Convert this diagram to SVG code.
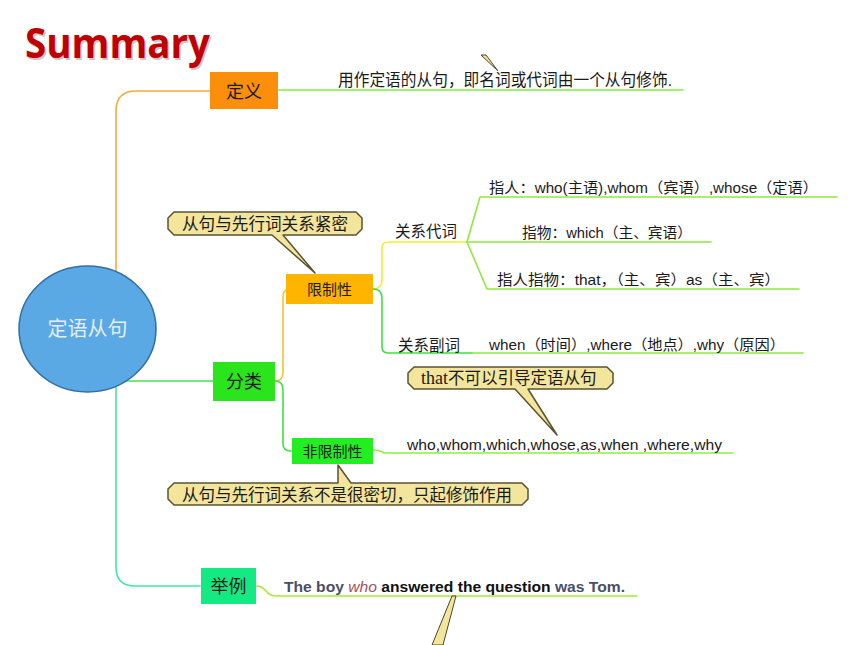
<svg xmlns="http://www.w3.org/2000/svg" width="860" height="645" viewBox="0 0 860 645">
<style>
.cjk{font-family:"Liberation Sans","Noto Sans CJK SC",sans-serif;fill:#1a1a1a}
.node{stroke:none}
.conn{fill:none;stroke-width:1.6;stroke-linecap:round;stroke-linejoin:round}
.call{fill:#f3e59c;stroke:#5a5232;stroke-width:1.5;stroke-linejoin:round}
.wedge{fill:#f3e59c;stroke:#4a4530;stroke-width:1}
</style>
<rect width="860" height="645" fill="#ffffff"/>
<text x="26.5" y="59.5" font-family="Open Sans" font-weight="bold" font-size="41" fill="#888" opacity="0.45" textLength="185" lengthAdjust="spacingAndGlyphs">Summary</text>
<text x="25" y="58" font-family="Open Sans" font-weight="bold" font-size="41" fill="#c00000" textLength="185" lengthAdjust="spacingAndGlyphs">Summary</text>

<g id="connectors">
<path class="conn" stroke="#f7a93a" d="M116,285 V111 Q116,91 136,91 H210"/>
<path class="conn" stroke="#44e64a" d="M120,381 H213"/>
<path class="conn" stroke="#40eaa0" d="M116,380 V567 Q116,586 135,586 H200"/>
<path class="conn" stroke="#80f040" d="M278,90 H683"/>
<path class="conn" stroke="#f2c230" d="M275,381 Q283,381 283,372 V298 Q283,290 287,290"/>
<path class="conn" stroke="#40e040" d="M275,381 Q283,381 283,390 V444 Q283,451 291,451"/>
<path class="conn" stroke="#f0f030" d="M373,289 Q382,289 382,280 V248 Q382,242 388,242 H467"/>
<path class="conn" stroke="#40e040" d="M373,289 Q382,289 382,298 V347 Q382,353 388,353 H472"/>
<path class="conn" stroke="#90e840" d="M472,353 H803"/>
<path class="conn" stroke="#90e840" d="M467,242 L480,197 H837"/>
<path class="conn" stroke="#90e840" d="M467,242 H711"/>
<path class="conn" stroke="#90e840" d="M467,242 L487,289 H799"/>
<path class="conn" stroke="#90ee40" d="M373,450 Q380,450 384,453 H733"/>
<path class="conn" stroke="#a8e830" d="M256,586 Q262,586 266,591 Q270,596 276,596 H637"/>
</g>

<g id="root">
<ellipse cx="87.5" cy="329" rx="68.5" ry="63" fill="#5aa8e4" stroke="#2f6ea6" stroke-width="1.5"/>
<text x="87.5" y="336" text-anchor="middle" font-family="Noto Sans CJK SC,sans-serif" font-size="20" fill="#e6eef8">定语从句</text>
</g>

<g id="n-dingyi">
<rect class="node" x="210" y="72" width="68" height="37" fill="#fb8f0c"/>
<text class="cjk" x="244" y="97.5" text-anchor="middle" font-size="18">定义</text>
</g>
<g id="t-dingyi">
<text class="cjk" x="338" y="86" font-size="16.5" textLength="334" lengthAdjust="spacingAndGlyphs">用作定语的从句，即名词或代词由一个从句修饰.</text>
</g>

<g id="n-fenlei">
<rect class="node" x="213" y="362" width="62" height="39" fill="#2ae41c"/>
<text class="cjk" x="244" y="387.5" text-anchor="middle" font-size="18">分类</text>
</g>

<g id="n-xianzhi">
<rect class="node" x="286" y="274" width="87" height="30" fill="#ffb400"/>
<text class="cjk" x="329.5" y="294.5" text-anchor="middle" font-size="15">限制性</text>
</g>

<g id="n-feixianzhi">
<rect class="node" x="292" y="438" width="81" height="26" fill="#22ee22"/>
<text class="cjk" x="332.5" y="456.5" text-anchor="middle" font-size="15">非限制性</text>
</g>

<g id="n-juli">
<rect class="node" x="201" y="568" width="55" height="36" fill="#14ea84"/>
<text class="cjk" x="228.5" y="592.5" text-anchor="middle" font-size="18">举例</text>
</g>

<g id="t-daici">
<text class="cjk" x="395" y="237" font-size="15.5">关系代词</text>
</g>
<g id="t-fuci">
<text class="cjk" x="398" y="351" font-size="15.5">关系副词</text>
</g>
<g id="t-zhiren">
<text class="cjk" x="489" y="193" font-size="14.5" textLength="329" lengthAdjust="spacingAndGlyphs">指人：who(主语),whom（宾语）,whose（定语）</text>
</g>
<g id="t-zhiwu">
<text class="cjk" x="522" y="238" font-size="14.5" textLength="170" lengthAdjust="spacingAndGlyphs">指物：which（主、宾语）</text>
</g>
<g id="t-zhirenzhiwu">
<text class="cjk" x="497" y="285" font-size="14.5" textLength="283" lengthAdjust="spacingAndGlyphs">指人指物：that，（主、宾）as（主、宾）</text>
</g>
<g id="t-when">
<text class="cjk" x="489" y="350" font-size="14.5" textLength="296" lengthAdjust="spacingAndGlyphs">when（时间）,where（地点）,why（原因）</text>
</g>
<g id="t-nonrestrictive">
<text class="cjk" x="407" y="450" font-size="14.5" textLength="315" lengthAdjust="spacingAndGlyphs">who,whom,which,whose,as,when ,where,why</text>
</g>
<g id="t-example">
<text x="284" y="592" font-family="Liberation Sans,sans-serif" font-size="15" font-weight="bold" textLength="341" lengthAdjust="spacingAndGlyphs"><tspan fill="#4a4e68">The boy </tspan><tspan fill="#a4505e" font-style="italic" font-weight="normal">who</tspan><tspan fill="#111"> answered the question </tspan><tspan fill="#4a4e68">was Tom.</tspan></text>
</g>

<g id="callout-1">
<path class="call" d="M174,212 H356 L362,218 V229 L356,235 H283 L315,273 L272,235 H174 L168,229 V218 Z"/>
<text class="cjk" x="182" y="230" font-size="16.5" textLength="166" lengthAdjust="spacingAndGlyphs">从句与先行词关系紧密</text>
</g>
<g id="callout-2">
<path class="call" d="M414,367 H607 L613,373 V383 L607,389 H528 L557,435 L515,389 H414 L408,383 V373 Z"/>
<text x="421" y="384" font-size="16.5"><tspan font-family="Liberation Serif,serif" font-size="18" fill="#1a1a1a">that</tspan><tspan class="cjk">不可以引导定语从句</tspan></text>
</g>
<g id="callout-3">
<path class="call" d="M174,483 H338 L338,465 L351,483 H522 L528,489 V499 L522,505 H174 L168,499 V489 Z"/>
<text class="cjk" x="182" y="501" font-size="16.5" textLength="330" lengthAdjust="spacingAndGlyphs">从句与先行词关系不是很密切，只起修饰作用</text>
</g>
<g id="callout-tails">
<polygon class="wedge" points="481,55 486,55 498,71"/>
<polygon class="wedge" points="452,596 456,596 443,645 432,645"/>
</g>
</svg>
